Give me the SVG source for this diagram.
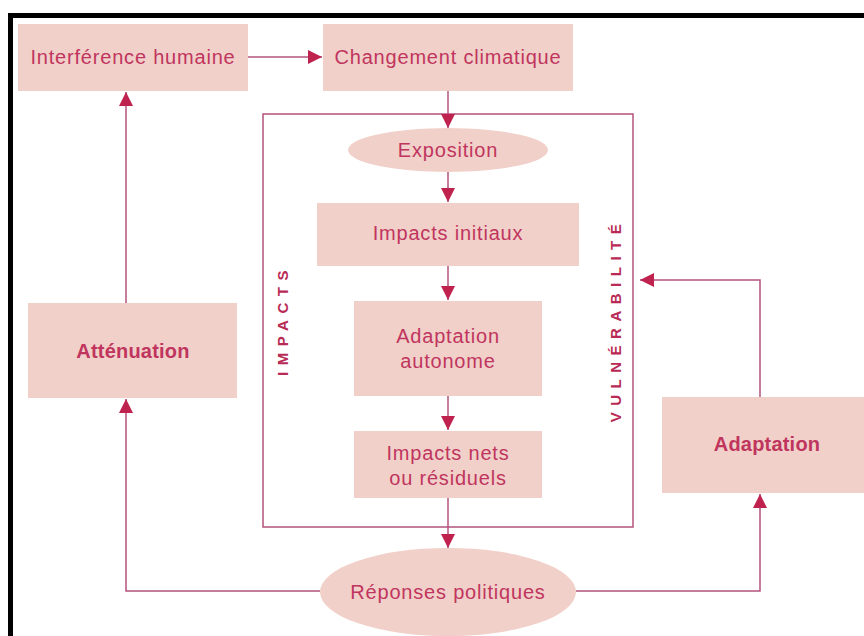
<svg xmlns="http://www.w3.org/2000/svg" width="864" height="636" viewBox="0 0 864 636">
<defs>
<style>
.box{fill:#f1d0c9;}
.t{font-family:"Liberation Sans",Arial,sans-serif;font-size:20px;fill:#c0355e;text-anchor:middle;letter-spacing:0.8px;}
.b{font-weight:bold;letter-spacing:0.2px;}
.v{font-family:"Liberation Sans",Arial,sans-serif;font-size:15px;font-weight:bold;fill:#b82a55;text-anchor:middle;letter-spacing:6.5px;}
.ln{fill:none;stroke:#b4527e;stroke-width:1.5;}
</style>
<marker id="ah" viewBox="0 0 10 10" refX="10" refY="5" markerWidth="14" markerHeight="14" markerUnits="userSpaceOnUse" orient="auto">
<path d="M0,0 L10,5 L0,10 z" fill="#c0224f"/>
</marker>
</defs>
<rect width="864" height="636" fill="#ffffff"/>
<path d="M10.5,636 V15.5 H864" fill="none" stroke="#000" stroke-width="5"/>

<g id="frame"><rect x="263" y="114" width="370" height="413" class="ln"/></g>

<g id="interference"><rect class="box" x="18" y="24" width="230" height="67"/><text class="t" x="133" y="64">Interférence humaine</text></g>
<g id="changement"><rect class="box" x="323" y="24" width="250" height="67"/><text class="t" x="448" y="64">Changement climatique</text></g>
<g id="exposition"><ellipse class="box" cx="448" cy="150" rx="100" ry="22"/><text class="t" x="448" y="157">Exposition</text></g>
<g id="impacts-initiaux"><rect class="box" x="317" y="203" width="262" height="63"/><text class="t" x="448" y="240">Impacts initiaux</text></g>
<g id="adaptation-autonome"><rect class="box" x="354" y="301" width="188" height="95"/><text class="t" x="448" y="343">Adaptation</text><text class="t" x="448" y="368">autonome</text></g>
<g id="impacts-nets"><rect class="box" x="354" y="431" width="188" height="67"/><text class="t" x="448" y="460">Impacts nets</text><text class="t" x="448" y="485">ou résiduels</text></g>
<g id="reponses"><ellipse class="box" cx="448" cy="592" rx="128" ry="44"/><text class="t" x="448" y="599">Réponses politiques</text></g>
<g id="attenuation"><rect class="box" x="28" y="303" width="209" height="95"/><text class="t b" x="133" y="358">Atténuation</text></g>
<g id="adaptation"><rect class="box" x="662" y="397" width="202" height="96"/><text class="t b" x="767" y="451">Adaptation</text></g>
<g id="label-impacts"><text class="v" transform="translate(288,320) rotate(-90)">IMPACTS</text></g>
<g id="label-vulnerabilite"><text class="v" transform="translate(621,320) rotate(-90)">VULNÉRABILITÉ</text></g>

<g id="connectors">
<line class="ln" x1="248" y1="57" x2="322" y2="57" marker-end="url(#ah)"/>
<line class="ln" x1="448" y1="91" x2="448" y2="128" marker-end="url(#ah)"/>
<line class="ln" x1="448" y1="172" x2="448" y2="202" marker-end="url(#ah)"/>
<line class="ln" x1="448" y1="266" x2="448" y2="300" marker-end="url(#ah)"/>
<line class="ln" x1="448" y1="396" x2="448" y2="430" marker-end="url(#ah)"/>
<line class="ln" x1="448" y1="498" x2="448" y2="548" marker-end="url(#ah)"/>
<polyline class="ln" points="320,591 126,591 126,399" marker-end="url(#ah)"/>
<line class="ln" x1="126" y1="303" x2="126" y2="92" marker-end="url(#ah)"/>
<polyline class="ln" points="576,591 760,591 760,494" marker-end="url(#ah)"/>
<polyline class="ln" points="760,397 760,280 640,280" marker-end="url(#ah)"/>
</g>
</svg>
